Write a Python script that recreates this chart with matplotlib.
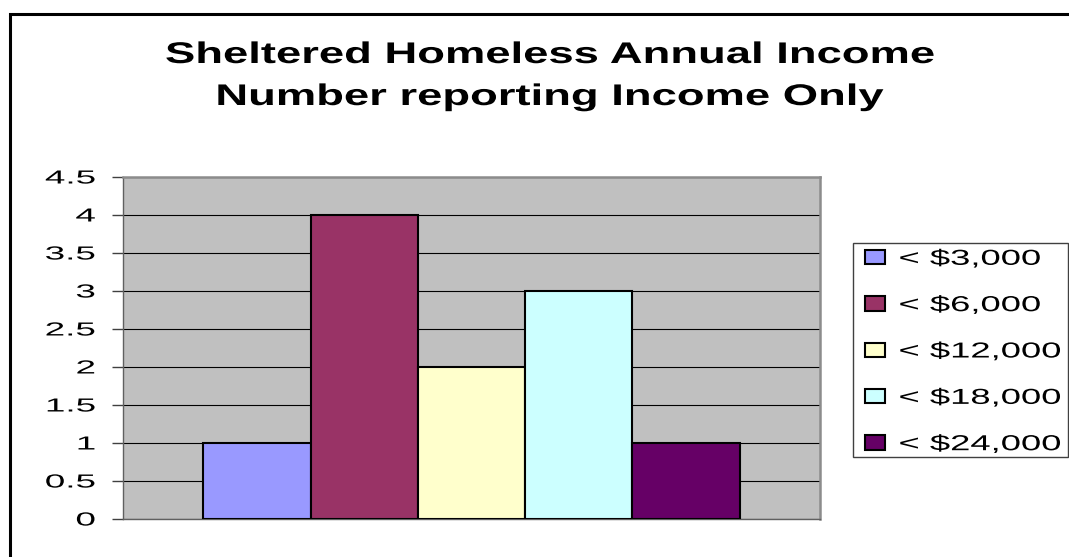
"""Bar chart of sheltered homeless annual income (reporting income only)."""

import numpy as np
import matplotlib

matplotlib.use("Agg")
import matplotlib.pyplot as plt
import matplotlib.patheffects as pe
from matplotlib.patches import Rectangle
from matplotlib.ticker import FormatStrFormatter
from matplotlib.transforms import Affine2D

income_brackets = ["< $3,000", "< $6,000", "< $12,000", "< $18,000", "< $24,000"]
respondents = [1, 4, 2, 3, 1]
y_ticks = [0, 0.5, 1, 1.5, 2, 2.5, 3, 3.5, 4, 4.5]
title_lines = ["Sheltered Homeless Annual Income", "Number reporting Income Only"]

bar_colors = ["#9999FF", "#993366", "#FFFFCC", "#CCFFFF", "#660066"]

W, H = 1069, 557
FONT = "Liberation Sans"


class HStretch(pe.AbstractPathEffect):
    """Widen glyph outlines horizontally around a fixed anchor."""

    def __init__(self, factor, anchor="center"):
        super().__init__()
        self.factor = factor
        self.anchor = anchor

    def draw_path(self, renderer, gc, tpath, affine, rgbFace=None):
        ext = tpath.get_extents()
        x0 = {"left": ext.x0, "center": 0.5 * (ext.x0 + ext.x1), "right": ext.x1}[self.anchor]
        stretch = Affine2D().translate(-x0, 0).scale(self.factor, 1).translate(x0, 0)
        renderer.draw_path(gc, tpath, stretch + affine, rgbFace)


def px(x, y):
    """Pixel position (from top-left) to figure fraction."""
    return x / W, 1 - y / H


fig = plt.figure(figsize=(W / 100, H / 100), dpi=100)
fig.patch.set_facecolor("white")

# outer chart border, only top and left edges fall inside the image
fig.patches.append(Rectangle(px(10, H + 20), 1.2, (H + 20 - 13.5) / H, transform=fig.transFigure,
                             fill=False, edgecolor="black", linewidth=2.2, clip_on=False))

ax = fig.add_axes([123 / W, 1 - 519 / H, 697 / W, 342 / H])
ax.set_facecolor("#C0C0C0")

n = len(respondents)
w = 1 / 1.3 / n
x = (np.arange(n) - (n - 1) / 2) * w
bars = ax.bar(x, respondents, width=w, color=bar_colors, edgecolor="black",
              linewidth=1.5, zorder=3)

ax.set_xlim(-0.5, 0.5)
ax.set_ylim(0, 4.5)
ax.set_xticks([])
ax.set_yticks(y_ticks)
ax.yaxis.set_major_formatter(FormatStrFormatter("%g"))
ax.yaxis.grid(True, color="black", linewidth=0.8)
ax.set_axisbelow(True)

for side in ["top", "right"]:
    ax.spines[side].set_color("#8C8C8C")
    ax.spines[side].set_linewidth(1.8)
for side in ["left", "bottom"]:
    ax.spines[side].set_color("#606060")
    ax.spines[side].set_linewidth(1.0)

ax.tick_params(axis="y", length=8, width=1, color="#404040", pad=12,
               labelsize=13.6, labelcolor="black")
for lbl in ax.get_yticklabels():
    lbl.set_fontfamily(FONT)
    lbl.set_path_effects([HStretch(1.95, "right")])

# two-line title
for line, base in zip(title_lines, [63, 105]):
    t = fig.text(*px(550, base), line, ha="center", va="baseline", fontsize=21.5,
                 fontweight="bold", family=FONT)
    t.set_path_effects([HStretch(1.52, "center")])

# legend box drawn separately so it fits the widened labels
fig.patches.append(Rectangle(px(853, 457), (1068 - 853) / W, (457 - 243) / H,
                             transform=fig.transFigure, facecolor="white",
                             edgecolor="#404040", linewidth=1.0))
leg = fig.legend(bars, income_brackets, loc="center left", bbox_to_anchor=px(865, 352),
                 frameon=False, borderpad=0, borderaxespad=0,
                 handlelength=0.93, handleheight=0.65, handletextpad=0.65,
                 labelspacing=1.17, prop={"family": FONT, "size": 15.6})
for t in leg.get_texts():
    t.set_path_effects([HStretch(1.68, "left")])

fig.savefig("out.png", dpi=100)
plt.close(fig)
